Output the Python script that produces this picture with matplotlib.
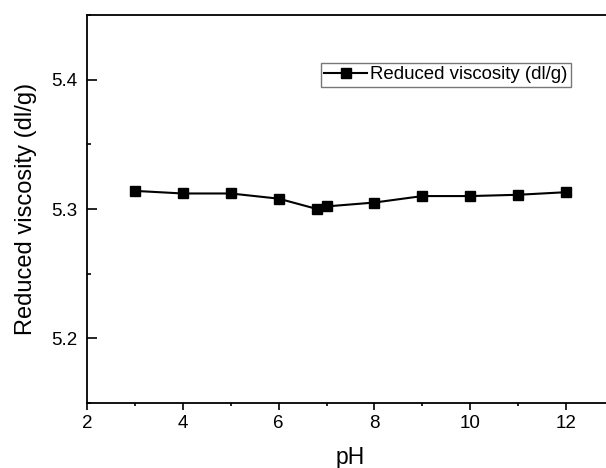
import matplotlib
matplotlib.use("Agg")
import matplotlib.pyplot as plt
from matplotlib.ticker import MultipleLocator, FormatStrFormatter

plt.rcParams['font.family'] = ['Liberation Sans', 'DejaVu Sans']

ph = [3, 4, 5, 6, 6.8, 7, 8, 9, 10, 11, 12]
viscosity = [5.314, 5.312, 5.312, 5.308, 5.300, 5.302, 5.305, 5.310, 5.310, 5.311, 5.313]
series_label = "Reduced viscosity (dl/g)"

fig = plt.figure(figsize=(6.06, 4.68), dpi=100)
ax = fig.add_axes([87/606, 65/468, 527/606, 388/468])

ax.plot(ph, viscosity, color='black', linewidth=1.5, marker='s', markersize=6.5,
        label=series_label)

ax.set_xlim(2, 13)
ax.set_ylim(5.15, 5.45)
ax.xaxis.set_major_locator(MultipleLocator(2))
ax.xaxis.set_minor_locator(MultipleLocator(1))
ax.set_yticks([5.2, 5.3, 5.4])
ax.yaxis.set_minor_locator(MultipleLocator(0.05))
ax.yaxis.set_major_formatter(FormatStrFormatter('%.1f'))

ax.tick_params(axis='x', which='major', direction='out', length=5, width=1.2, labelsize=13.5, pad=4)
ax.tick_params(axis='x', which='minor', direction='out', length=2.5, width=1.2)
ax.tick_params(axis='y', which='major', direction='in', length=7, width=1.2, labelsize=13.5, pad=7)
ax.tick_params(axis='y', which='minor', direction='in', length=3, width=1.2)

for s in ax.spines.values():
    s.set_linewidth(1.3)

ax.set_xlabel('pH', fontsize=16.5, labelpad=10)
ax.set_ylabel('Reduced viscosity (dl/g)', fontsize=17, labelpad=10)

leg = ax.legend(loc='upper left', bbox_to_anchor=(321/606, 1 - 63/468),
                bbox_transform=fig.transFigure, borderaxespad=0, fontsize=13.4,
                fancybox=False, framealpha=1, edgecolor='#777777',
                handlelength=2.3, handletextpad=0.15, borderpad=0.18)
leg.get_frame().set_linewidth(1.0)

fig.savefig('out.png', dpi=100)
